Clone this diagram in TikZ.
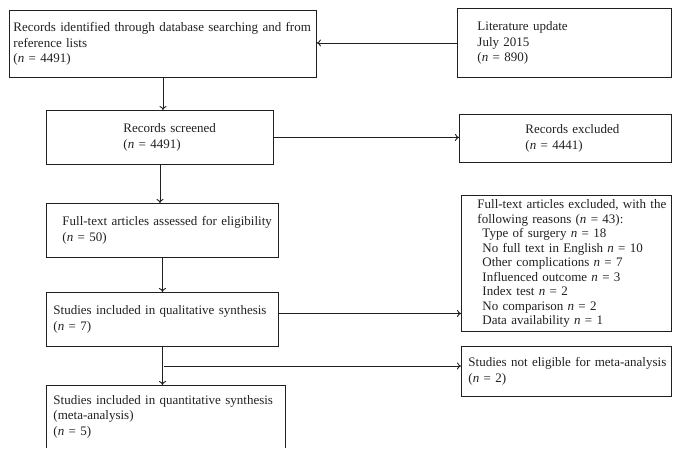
\documentclass[tikz,border=0pt]{standalone}
\usepackage{fontspec}
\setmainfont{Liberation Serif}
\usetikzlibrary{arrows.meta,calc}
\definecolor{ink}{RGB}{35,31,32}
\tikzset{frame/.style={draw=ink, line width=0.9pt}}
\tikzset{box/.style={frame, text=ink, inner sep=0pt, align=left, anchor=north west, font=\fontsize{13}{15.5}\selectfont}}
\tikzset{lpad/.style={execute at begin node={\leftskip=#1pt\relax}}}
\tikzset{flow/.style={draw=ink, line width=0.9pt, -{To[length=4pt,width=7pt]}}}
\newcommand{\nvar}{\textit{n}}

\begin{document}
\begin{tikzpicture}[x=1pt, y=-1pt]
\useasboundingbox (0,0) rectangle (679,455);
% identification
\node (ident) at (9,10) [box, text width=307pt, minimum height=67pt, lpad=4]
  {Records identified through database searching and from\\reference lists\\(\nvar{} = 4491)};
\node (update) at (457,8) [box, text width=214pt, minimum height=69pt, lpad=20]
  {Literature update\\July 2015\\(\nvar{} = 890)};
% screening
\node (screened) at (46,110) [box, text width=227pt, minimum height=54pt, lpad=77]
  {Records screened\\(\nvar{} = 4491)};
\node (recexcl) at (459,114) [box, text width=212pt, minimum height=48pt, lpad=66]
  {Records excluded\\(\nvar{} = 4441)};
% eligibility
\node (assessed) at (46,203) [box, text width=232pt, minimum height=54pt, lpad=16]
  {Full-text articles assessed for eligibility\\(\nvar{} = 50)};
\node (ftexcl) at (461,195) [box, text width=210pt, minimum height=136pt, lpad=16,
  font=\fontsize{13}{14.5}\selectfont]
  {Full-text articles excluded, with the\\following reasons (\nvar{} = 43):\\
   \hspace*{5pt}Type of surgery \nvar{} = 18\\
   \hspace*{5pt}No full text in English \nvar{} = 10\\
   \hspace*{5pt}Other complications \nvar{} = 7\\
   \hspace*{5pt}Influenced outcome \nvar{} = 3\\
   \hspace*{5pt}Index test \nvar{} = 2\\
   \hspace*{5pt}No comparison \nvar{} = 2\\
   \hspace*{5pt}Data availability \nvar{} = 1};
% included
\node (qual) at (46,292) [box, text width=232pt, minimum height=54pt, lpad=7]
  {Studies included in qualitative synthesis\\(\nvar{} = 7)};
\node (noteligible) at (461,346) [box, text width=210pt, minimum height=50pt, lpad=7]
  {Studies not eligible for meta-analysis\\(\nvar{} = 2)};
\node (quant) at (46,385) [box, draw=none, text width=239pt, minimum height=62pt, lpad=7]
  {Studies included in quantitative synthesis\\(meta-analysis)\\(\nvar{} = 5)};
\draw[frame] (quant.south west) |- (quant.north east) -- (quant.south east);
% connectors
\coordinate (branch) at ($(qual.south)!0.5!(quant.north)$);
\draw[flow] (update.west) -- (update.west -| ident.east);
\draw[flow] (ident.south) -- (ident.south |- screened.north);
\draw[flow] (screened.east) -- (screened.east -| recexcl.west);
\draw[flow] (screened.south) -- (screened.south |- assessed.north);
\draw[flow] (assessed.south) -- (assessed.south |- qual.north);
\draw[flow] ([yshift=6pt]qual.east) -- ([yshift=6pt]qual.east -| ftexcl.west);
\draw[flow] (qual.south) -- (qual.south |- quant.north);
\draw[flow] (branch) -- (branch -| noteligible.west);
\end{tikzpicture}
\end{document}
